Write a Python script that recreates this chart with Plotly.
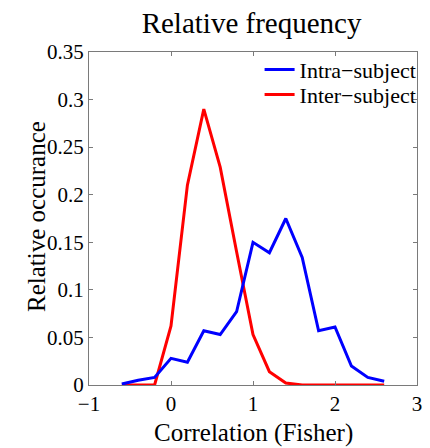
import plotly.graph_objects as go

# Fisher-transformed correlation bin centres
x_bins = [-0.6, -0.4, -0.2, 0.0, 0.2, 0.4, 0.6, 0.8, 1.0, 1.2, 1.4, 1.6, 1.8, 2.0, 2.2, 2.4, 2.6]

# relative occurrence per bin
intra_subject = [0.001, 0.005, 0.008, 0.028, 0.024, 0.057, 0.053, 0.077, 0.150, 0.139, 0.175,
                 0.134, 0.057, 0.061, 0.020, 0.008, 0.004]
inter_subject = [0.0, 0.0, 0.0, 0.062, 0.210, 0.290, 0.229, 0.140, 0.053, 0.014, 0.002,
                 0.0, 0.0, 0.0, 0.0, 0.0, 0.0]

x_ticks = [-1, 0, 1, 2, 3]
x_tick_text = ["\u22121", "0", "1", "2", "3"]
y_ticks = [0, 0.05, 0.1, 0.15, 0.2, 0.25, 0.3, 0.35]
y_tick_text = ["0", "0.05", "0.1", "0.15", "0.2", "0.25", "0.3", "0.35"]

FONT = "Liberation Serif"
LEGEND_FONT = dict(family=FONT, size=22, color="black")

fig = go.Figure()
# red drawn first so the blue curve sits on top where they meet
fig.add_trace(go.Scatter(x=x_bins, y=inter_subject, mode="lines", name="Inter\u2212subject",
                         line=dict(color="#ff0000", width=3), legend="legend2"))
fig.add_trace(go.Scatter(x=x_bins, y=intra_subject, mode="lines", name="Intra\u2212subject",
                         line=dict(color="#0000ff", width=3), legend="legend"))

axis_common = dict(
    showgrid=False, zeroline=False, showline=True, linecolor="#7a7a7a", linewidth=1,
    mirror="ticks", ticks="inside", ticklen=4, tickcolor="#7a7a7a", tickwidth=1,
    tickfont=dict(family=FONT, size=21, color="black"),
)

legend_common = dict(x=1.014, xanchor="right", yanchor="middle", bgcolor="rgba(0,0,0,0)",
                     borderwidth=0, font=LEGEND_FONT, itemwidth=30)

fig.update_layout(
    width=430, height=448,
    margin=dict(l=89, r=8, t=52, b=63),
    paper_bgcolor="white", plot_bgcolor="white",
    font=dict(family=FONT, color="black"),
    title=dict(text="Relative frequency", x=0.585, xanchor="center",
               y=1 - 23 / 448, yanchor="middle", yref="container",
               font=dict(family=FONT, size=29, color="black")),
    xaxis=dict(range=[-1, 3], tickvals=x_ticks, ticktext=x_tick_text, **axis_common),
    yaxis=dict(range=[0, 0.35], tickvals=y_ticks, ticktext=y_tick_text, **axis_common),
    legend=dict(y=0.947, **legend_common),
    legend2=dict(y=0.872, **legend_common),
    showlegend=True,
    annotations=[
        dict(text="Correlation (Fisher)", xref="paper", yref="paper", x=0.5, y=-0.145,
             xanchor="center", yanchor="middle", showarrow=False,
             font=dict(family=FONT, size=25, color="black")),
        dict(text="Relative occurance", xref="paper", yref="paper", x=-0.158, y=0.505,
             xanchor="center", yanchor="middle", showarrow=False, textangle=-90,
             font=dict(family=FONT, size=25, color="black")),
    ],
)

fig.write_html("out.html")
